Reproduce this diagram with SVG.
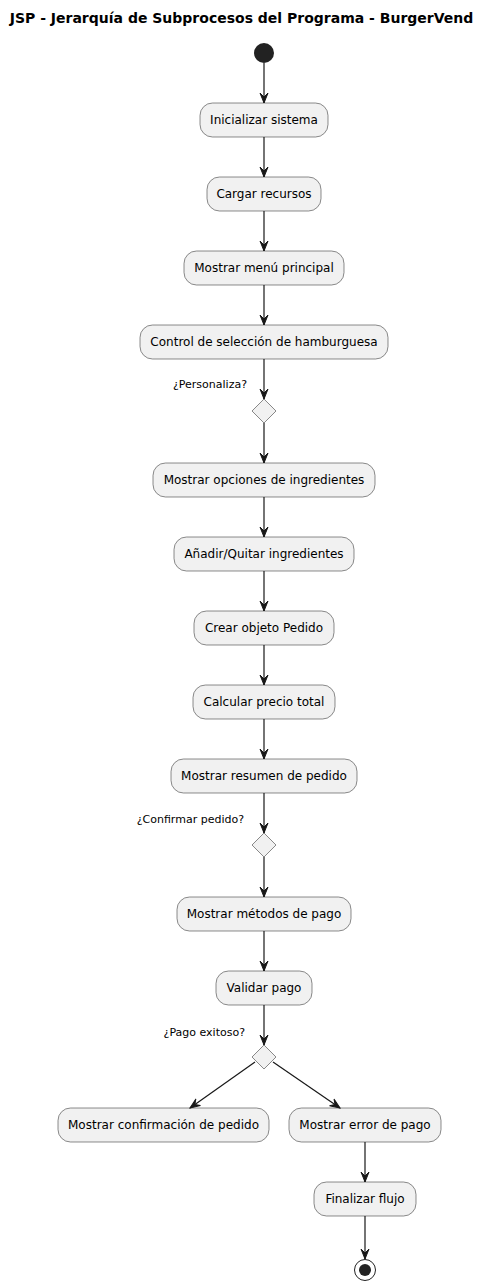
<svg xmlns="http://www.w3.org/2000/svg" width="491" height="1283" viewBox="0 0 491 1283">
<defs>
<style>
.box{fill:#F1F1F1;stroke:#181818;stroke-width:0.5}
.t{font-family:"DejaVu Sans",Verdana,sans-serif;font-size:12px;fill:#000;text-anchor:middle}
.lbl{font-family:"DejaVu Sans",Verdana,sans-serif;font-size:11px;fill:#000;text-anchor:end}
.title{font-family:"DejaVu Sans",Verdana,sans-serif;font-size:14px;font-weight:bold;fill:#000;text-anchor:middle}
.c{stroke:#181818;stroke-width:1.2;fill:none;marker-end:url(#ah)}
</style>
<marker id="ah" viewBox="-1 -6 12 12" refX="10" refY="0" markerWidth="12" markerHeight="12" markerUnits="userSpaceOnUse" orient="auto">
<path d="M0,-4 L10,0 L0,4 L4,0 Z" fill="#181818" stroke="#181818" stroke-width="1" stroke-linejoin="miter"/>
</marker>
</defs>
<rect width="491" height="1283" fill="#FFFFFF"/>
<text class="title" x="241.5" y="23">JSP - Jerarquía de Subprocesos del Programa - BurgerVend</text>

<g id="start"><circle cx="264" cy="53" r="10" fill="#222222"/></g>

<g id="n1"><rect class="box" x="200" y="103" width="128" height="34" rx="12.5"/><text class="t" x="264" y="124">Inicializar sistema</text></g>
<g id="n2"><rect class="box" x="207" y="177" width="114" height="34" rx="12.5"/><text class="t" x="264" y="198">Cargar recursos</text></g>
<g id="n3"><rect class="box" x="184" y="251" width="160" height="34" rx="12.5"/><text class="t" x="264" y="272">Mostrar menú principal</text></g>
<g id="n4"><rect class="box" x="140" y="325" width="248" height="34" rx="12.5"/><text class="t" x="264" y="346">Control de selección de hamburguesa</text></g>
<g id="d1"><polygon class="box" points="264,399 276,411 264,423 252,411"/><text class="lbl" x="247" y="388">¿Personaliza?</text></g>
<g id="n5"><rect class="box" x="153" y="463" width="222" height="34" rx="12.5"/><text class="t" x="264" y="484">Mostrar opciones de ingredientes</text></g>
<g id="n6"><rect class="box" x="174" y="537" width="180" height="34" rx="12.5"/><text class="t" x="264" y="558">Añadir/Quitar ingredientes</text></g>
<g id="n7"><rect class="box" x="194" y="611" width="140" height="34" rx="12.5"/><text class="t" x="264" y="632">Crear objeto Pedido</text></g>
<g id="n8"><rect class="box" x="193" y="685" width="142" height="34" rx="12.5"/><text class="t" x="264" y="706">Calcular precio total</text></g>
<g id="n9"><rect class="box" x="171" y="759" width="186" height="34" rx="12.5"/><text class="t" x="264" y="780">Mostrar resumen de pedido</text></g>
<g id="d2"><polygon class="box" points="264,833 276,845 264,857 252,845"/><text class="lbl" x="244" y="823">¿Confirmar pedido?</text></g>
<g id="n10"><rect class="box" x="177" y="897" width="174" height="34" rx="12.5"/><text class="t" x="264" y="918">Mostrar métodos de pago</text></g>
<g id="n11"><rect class="box" x="216" y="971" width="96" height="34" rx="12.5"/><text class="t" x="264" y="992">Validar pago</text></g>
<g id="d3"><polygon class="box" points="264,1045 276,1057 264,1069 252,1057"/><text class="lbl" x="245" y="1036">¿Pago exitoso?</text></g>
<g id="n12"><rect class="box" x="58" y="1108" width="211" height="34" rx="12.5"/><text class="t" x="163.5" y="1129">Mostrar confirmación de pedido</text></g>
<g id="n13"><rect class="box" x="289" y="1108" width="152" height="34" rx="12.5"/><text class="t" x="365" y="1129">Mostrar error de pago</text></g>
<g id="n14"><rect class="box" x="314" y="1182" width="102" height="34" rx="12.5"/><text class="t" x="365" y="1203">Finalizar flujo</text></g>

<g id="end"><circle cx="365" cy="1270" r="10.5" fill="none" stroke="#222222" stroke-width="1"/><circle cx="365" cy="1270" r="6" fill="#222222"/></g>

<g id="connectors">
<line class="c" x1="264" y1="63" x2="264" y2="103"/>
<line class="c" x1="264" y1="137" x2="264" y2="177"/>
<line class="c" x1="264" y1="211" x2="264" y2="251"/>
<line class="c" x1="264" y1="285" x2="264" y2="325"/>
<line class="c" x1="264" y1="359" x2="264" y2="399"/>
<line class="c" x1="264" y1="423" x2="264" y2="463"/>
<line class="c" x1="264" y1="497" x2="264" y2="537"/>
<line class="c" x1="264" y1="571" x2="264" y2="611"/>
<line class="c" x1="264" y1="645" x2="264" y2="685"/>
<line class="c" x1="264" y1="719" x2="264" y2="759"/>
<line class="c" x1="264" y1="793" x2="264" y2="833"/>
<line class="c" x1="264" y1="857" x2="264" y2="897"/>
<line class="c" x1="264" y1="931" x2="264" y2="971"/>
<line class="c" x1="264" y1="1005" x2="264" y2="1045"/>
<line class="c" x1="255" y1="1062" x2="190" y2="1108"/>
<line class="c" x1="273" y1="1062" x2="340" y2="1108"/>
<line class="c" x1="365" y1="1142" x2="365" y2="1182"/>
<line class="c" x1="365" y1="1216" x2="365" y2="1259"/>
</g>
</svg>
